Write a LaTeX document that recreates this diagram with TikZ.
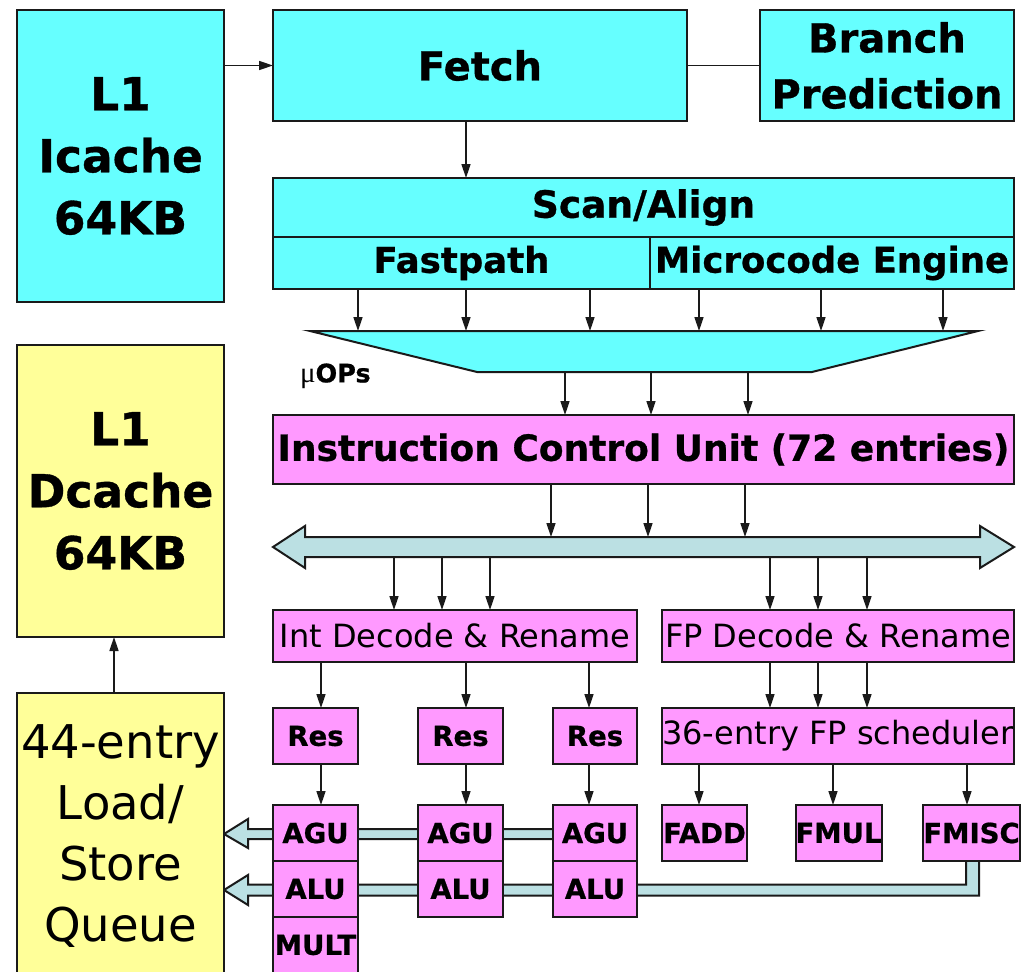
\documentclass[tikz,border=0pt]{standalone}
\usepackage{fontspec}
\setmainfont{DejaVu Sans}[BoldFeatures={FakeBold=0.8}]
\newfontfamily\mufont{Liberation Serif}
\usetikzlibrary{arrows.meta,fit}
\definecolor{cy}{HTML}{66FFFF}
\definecolor{pk}{HTML}{FF99FF}
\definecolor{yl}{HTML}{FFFF99}
\definecolor{bu}{HTML}{BBE0E3}
\definecolor{ln}{HTML}{1A1A1A}
\newcommand\fsz[2]{\fontsize{#1}{#2}\selectfont}
\begin{document}
\begin{tikzpicture}[x=1pt,y=-1pt,
  rect/.style n args={4}{at={({(#1+#3)/2},{(#2+#4)/2})}, minimum width={(#3-#1)*1pt}, minimum height={(#4-#2)*1pt}},
  box/.style={draw=ln, line width=2pt, inner sep=0pt, outer sep=0pt, align=center},
  cbox/.style={box, fill=cy},
  pbox/.style={box, fill=pk},
  ybox/.style={box, fill=yl},
  bigb/.style={font=\fsz{45.5}{62}\bfseries},
  scanb/.style={font=\fsz{37.5}{40}\bfseries},
  midb/.style={font=\fsz{35.5}{40}\bfseries},
  icub/.style={font=\fsz{36}{40}\bfseries},
  topb/.style={font=\fsz{40}{56}\bfseries},
  regt/.style={font=\fsz{32}{36}},
  smb/.style={font=\fsz{27.5}{30}\bfseries},
  arr/.style={-{Triangle[length=14pt,width=9pt]}, line width=1.6pt, draw=ln},
  plain/.style={line width=1.6pt, draw=ln},
  barstyle/.style={fill=bu, draw=ln, line width=2pt, line join=miter},
  ghost/.style={inner sep=0pt, outer sep=0pt}
]
\useasboundingbox (0,0) rectangle (1024,971);
\clip (0,0) rectangle (1024,971);

% execution result bars (behind boxes)
\draw[barstyle] (224,834) -- (248,819) -- (248,829) -- (600,829) -- (600,839) -- (248,839) -- (248,848) -- cycle;
\draw[barstyle] (224,890) -- (248,875) -- (248,884.5) -- (966,884.5) -- (966,858) -- (979,858) -- (979,895.5) -- (248,895.5) -- (248,905) -- cycle;

% front end
\node[cbox, bigb, rect={17}{10}{224}{302}] (icache) {L1\\Icache\\64KB};
\node[cbox, topb, rect={273}{10}{687}{121}] (fetch) {Fetch};
\node[cbox, topb, rect={760}{10}{1014}{121}] (branch) {Branch\\Prediction};
\node[cbox, scanb, rect={273}{178}{1014}{237}] (scan) {Scan/Align};
\node[cbox, midb, rect={273}{237}{650}{289}] (fast) {Fastpath};
\node[cbox, midb, rect={650}{237}{1014}{289}] (micro) {Microcode Engine};

% trapezoid (uOPs)
\node[ghost, rect={310}{331}{978}{372}] (trap) {};
\draw[fill=cy, draw=ln, line width=2pt, line join=miter] (trap.north west) -- (trap.north east) -- (812,372) -- (477,372) -- cycle;
\node[ghost, anchor=west, font=\fsz{25.5}{28}\bfseries] (uops) at (300,376) {{\mufont\mdseries\fontsize{29}{30}\selectfont μ}OPs};

\node[pbox, icub, rect={273}{415}{1014}{484}] (icu) {Instruction Control Unit (72 entries)};

% bus
\node[ghost, rect={273}{537}{1014}{557}] (bus) {};
\draw[barstyle] (273,547) -- (305,526) -- (305,537) -- (980,537) -- (980,526) -- (1014,547) -- (980,568) -- (980,557) -- (305,557) -- (305,568) -- cycle;

\node[pbox, regt, rect={273}{610}{637}{662}] (intdec) {Int Decode \& Rename};
\node[pbox, regt, rect={662}{610}{1014}{662}] (fpdec) {FP Decode \& Rename};

\node[pbox, smb, rect={273}{708}{358}{764}] (res1) {Res};
\node[pbox, smb, rect={418}{708}{503}{764}] (res2) {Res};
\node[pbox, smb, rect={553}{708}{637}{764}] (res3) {Res};
\node[pbox, regt, rect={662}{708}{1014}{764}] (sched) {36-entry FP scheduler};

\node[pbox, smb, rect={273}{805}{358}{861}] (agu1) {AGU};
\node[pbox, smb, rect={418}{805}{503}{861}] (agu2) {AGU};
\node[pbox, smb, rect={553}{805}{637}{861}] (agu3) {AGU};
\node[pbox, smb, rect={273}{861}{358}{917}] (alu1) {ALU};
\node[pbox, smb, rect={418}{861}{503}{917}] (alu2) {ALU};
\node[pbox, smb, rect={553}{861}{637}{917}] (alu3) {ALU};
\node[pbox, smb, rect={273}{917}{358}{973}] (mult) {MULT};

\node[pbox, smb, rect={662}{805}{747}{861}] (fadd) {FADD};
\node[pbox, smb, rect={796}{805}{881}{861}] (fmul) {FMUL};
\node[pbox, smb, rect={929}{805}{1014}{861}] (fmisc) {FMISC};

% caches / queue
\node[ybox, bigb, rect={17}{345}{224}{637}] (dcache) {L1\\Dcache\\64KB};
\node[ybox, font=\fsz{46.5}{61}, rect={17}{693}{224}{980}] (lsq) {44-entry\\Load/\\Store\\Queue};

% connectors
\draw[arr] (icache.east |- fetch.west) -- (fetch.west);
\draw[plain] (fetch.east) -- (branch.west);
\coordinate (xf) at (466,0);
\draw[arr] (fetch.south -| xf) -- (scan.north -| xf);
\foreach \x in {358,466,590,699,821,943}{
  \coordinate (t) at (\x,0);
  \draw[arr] (fast.south -| t) -- (trap.north -| t);
}
\foreach \x in {565,651,748}{
  \coordinate (t) at (\x,0);
  \draw[arr] (trap.south -| t) -- (icu.north -| t);
}
\foreach \x in {551,648,745}{
  \coordinate (t) at (\x,0);
  \draw[arr] (icu.south -| t) -- (bus.north -| t);
}
\foreach \x in {394,442,490}{
  \coordinate (t) at (\x,0);
  \draw[arr] (bus.south -| t) -- (intdec.north -| t);
}
\foreach \x in {770,818,867}{
  \coordinate (t) at (\x,0);
  \draw[arr] (bus.south -| t) -- (fpdec.north -| t);
  \draw[arr] (fpdec.south -| t) -- (sched.north -| t);
}
\coordinate (r1) at (321,0);
\coordinate (r2) at (466,0);
\coordinate (r3) at (589,0);
\draw[arr] (intdec.south -| r1) -- (res1.north -| r1);
\draw[arr] (intdec.south -| r2) -- (res2.north -| r2);
\draw[arr] (intdec.south -| r3) -- (res3.north -| r3);
\draw[arr] (res1.south -| r1) -- (agu1.north -| r1);
\draw[arr] (res2.south -| r2) -- (agu2.north -| r2);
\draw[arr] (res3.south -| r3) -- (agu3.north -| r3);
\coordinate (f1) at (699,0);
\coordinate (f2) at (833,0);
\coordinate (f3) at (967,0);
\draw[arr] (sched.south -| f1) -- (fadd.north -| f1);
\draw[arr] (sched.south -| f2) -- (fmul.north -| f2);
\draw[arr] (sched.south -| f3) -- (fmisc.north -| f3);
\coordinate (xl) at (114,0);
\draw[arr] (lsq.north -| xl) -- (dcache.south -| xl);
\end{tikzpicture}
\end{document}
